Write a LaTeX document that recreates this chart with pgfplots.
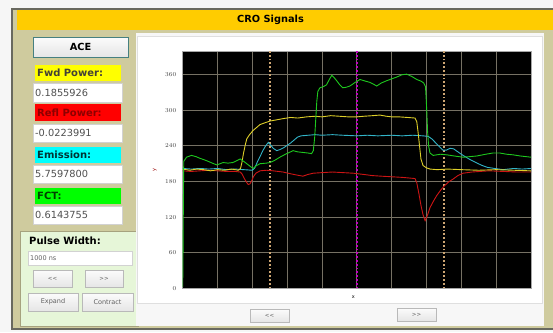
\documentclass[border=0pt]{standalone}
\usepackage{fontspec}
\setmainfont{DejaVu Sans}
\usepackage{pgfplots}
\pgfplotsset{compat=1.18}
\definecolor{olive1}{RGB}{207,203,158}
\definecolor{framec}{RGB}{105,105,95}
\definecolor{titley}{RGB}{255,204,0}
\definecolor{pgreen}{RGB}{230,246,216}
\definecolor{gridc}{RGB}{118,113,100}
\definecolor{cury}{RGB}{205,165,115}
\definecolor{curm}{RGB}{195,0,195}
\definecolor{trY}{RGB}{222,207,40}
\definecolor{trC}{RGB}{50,180,200}
\definecolor{trG}{RGB}{30,200,30}
\definecolor{trR}{RGB}{205,20,20}
\definecolor{valc}{RGB}{80,80,80}
\definecolor{bgY}{RGB}{255,255,0}
\definecolor{bgR}{RGB}{255,0,0}
\definecolor{bgC}{RGB}{0,255,255}
\definecolor{bgG}{RGB}{0,255,0}
\begin{document}
\begin{tikzpicture}
\useasboundingbox (0pt,0pt) rectangle (553pt,-332pt);
\begin{scope}[x=1pt,y=-1pt,
  btn/.style={top color=white!97!gray, bottom color=gray!20, draw=gray!55, line width=0.6pt},
  vbox/.style={fill=white, draw=gray!35, line width=0.5pt},
  lbl/.style={font=\fontsize{10}{11}\selectfont\bfseries, anchor=west, inner sep=0pt},
  val/.style={font=\fontsize{9.8}{11}\selectfont, anchor=west, inner sep=0pt, text=valc},
  small/.style={font=\fontsize{6.5}{7}\selectfont, text=gray!75!black, inner sep=0pt}]
\fill[white!93!gray] (0,0) rectangle (553,332);
\filldraw[fill=olive1, draw=framec, line width=1.6pt] (12,9) rectangle (565,329);
\fill[titley] (17,10) rectangle (553,30);
\node[font=\fontsize{9.8}{10}\selectfont\bfseries, inner sep=0pt] at (270.5,20) {CRO Signals};
% left panel
\filldraw[btn, draw=teal!45!gray] (33,37) rectangle (128,57);
\node[font=\fontsize{9.8}{10}\selectfont\bfseries, inner sep=0pt] at (80.5,47) {ACE};
\fill[bgY] (35,65) rectangle (121,81);
\node[lbl, text=black!85!yellow] at (37,73) {Fwd Power:};
\filldraw[vbox] (33,83) rectangle (122,102);
\node[val] at (35,92.5) {0.1855926};
\fill[bgR] (35,104) rectangle (121,121);
\node[lbl, text=red!55!black] at (37,112.5) {Refl Power:};
\filldraw[vbox] (33,124) rectangle (122,142);
\node[val] at (35,133) {-0.0223991};
\fill[bgC] (35,147) rectangle (121,163);
\node[lbl, text=teal!40!black] at (37,155) {Emission:};
\filldraw[vbox] (33,165) rectangle (122,183);
\node[val] at (35,174) {5.7597800};
\fill[bgG] (35,188) rectangle (121,204);
\node[lbl, text=green!25!black] at (37,196) {FCT:};
\filldraw[vbox] (33,206) rectangle (122,224);
\node[val] at (35,215) {0.6143755};
% pulse width panel
\filldraw[fill=pgreen, draw=olive1!80!black, line width=0.8pt] (20,231) rectangle (138,326);
\node[lbl] at (29,240.5) {Pulse Width:};
\filldraw[vbox] (28,251) rectangle (132,265);
\node[small, anchor=west, font=\fontsize{6.5}{7}\selectfont] at (30,258) {1000 ns};
\filldraw[btn] (33,270) rectangle (72,287);
\node[small, font=\fontsize{5.5}{6}\selectfont] at (52.5,278.5) {{<}{<}};
\filldraw[btn] (85,270) rectangle (123,287);
\node[small, font=\fontsize{5.5}{6}\selectfont] at (104,278.5) {{>}{>}};
\filldraw[btn] (28,293) rectangle (78,311);
\node[small] at (53,302) {Expand};
\filldraw[btn] (82,293) rectangle (133,311);
\node[small] at (107.5,302) {Contract};
% chart panel
\fill[white!94!gray] (136,33) rectangle (544,326);
\filldraw[fill=white, draw=gray!25] (137,36) rectangle (542,303);
\filldraw[btn] (250,309) rectangle (289,322);
\node[small, font=\fontsize{5.5}{6}\selectfont] at (269.5,315.5) {{<}{<}};
\filldraw[btn] (397,308) rectangle (436,321);
\node[small, font=\fontsize{5.5}{6}\selectfont] at (416.5,314.5) {{>}{>}};
\end{scope}
\begin{axis}[
  at={(182.7pt,-288.3pt)}, anchor=south west,
  width=348.3pt, height=237.3pt, scale only axis,
  xmin=0, xmax=1000, ymin=0, ymax=400,
  axis background/.style={fill=black},
  xtick={0,100,...,1000}, xticklabels={},
  ytick={0,60,...,360},
  grid=major, major grid style={draw=gridc, line width=1pt},
  tick style={draw=none},
  axis line style={draw=gray!70, line width=0.6pt},
  yticklabel style={font=\fontsize{6}{6}\selectfont, text=black!75, xshift=-3pt},
  xlabel={x}, ylabel={y},
  xlabel style={font=\fontsize{5}{5}\selectfont, at={(axis description cs:0.49,0)}, anchor=north, yshift=-4pt},
  ylabel style={font=\fontsize{5}{5}\selectfont, text=red!60!black, at={(axis description cs:-0.08,0.5)}, anchor=center},
  every axis plot/.append style={line width=0.9pt, mark=none},
]
\addplot[cury, line width=1.8pt, dotted] coordinates {(250,0) (250,400)};
\addplot[cury, line width=1.8pt, dotted] coordinates {(750,0) (750,400)};
\addplot[curm, line width=1.8pt, dotted] coordinates {(500,0) (500,400)};
% Refl (red)
\addplot[trR] coordinates {(0,198)(25,197)(50,198)(75,199)(100,198)(125,197)(150,197)(165,196)(170,193)(176,186)(183,179)(188,175)(193,176)(198,181)(203,188)(210,194)(222,198)(240,199)(260,198)(288,196)(310,193)(327,191)(345,189)(360,192)(375,194)(400,195)(430,196)(460,195)(490,194)(518,192)(545,190)(570,189)(600,188)(630,187)(667,185)(672,178)(678,160)(684,140)(690,124)(696,114)(702,122)(710,136)(720,147)(729,156)(740,165)(750,172)(765,180)(776,184)(790,190)(805,194)(830,196)(854,197)(880,198)(920,197)(960,196)(1000,196)};
% Emission (cyan)
\addplot[trC] coordinates {(0,202)(25,201)(50,202)(75,201)(100,202)(125,200)(150,201)(175,200)(200,199)(207,203)(215,214)(222,222)(230,232)(238,240)(246,246)(253,241)(260,236)(270,232)(280,234)(290,237)(300,241)(310,245)(320,250)(330,255)(340,257)(360,258)(380,259)(400,258)(430,259)(460,258)(500,257)(530,258)(560,257)(600,258)(630,257)(660,258)(690,257)(705,256)(715,252)(725,246)(735,240)(747,233)(757,233)(768,236)(778,235)(790,230)(805,224)(825,217)(845,211)(860,207)(874,204)(895,202)(920,200)(950,202)(975,201)(1000,202)};
% Fwd (yellow)
\addplot[trY] coordinates {(0,201)(20,199)(40,201)(60,200)(80,198)(100,200)(120,199)(140,201)(160,199)(166,202)(170,212)(174,226)(179,240)(184,252)(192,259)(202,266)(212,271)(222,276)(236,279)(251,282)(270,284)(288,286)(310,288)(330,287)(356,289)(380,290)(400,289)(425,291)(450,290)(475,289)(500,289)(520,290)(545,291)(566,292)(585,290)(600,289)(620,289)(645,288)(667,287)(672,281)(676,262)(680,240)(684,218)(690,207)(700,203)(710,201)(730,200)(760,201)(800,200)(850,199)(900,200)(950,199)(1000,198)};
% FCT (green)
\addplot[trG] coordinates {(0,2)(1,60)(2,150)(3,214)(11,221)(25,224)(38,222)(50,219)(60,217)(69,215)(85,211)(98,208)(107,210)(116,212)(130,211)(144,212)(155,215)(165,218)(175,214)(184,210)(195,205)(202,202)(212,207)(222,210)(240,211)(251,212)(265,216)(279,221)(295,226)(317,232)(330,230)(345,229)(360,228)(370,227)(375,232)(379,255)(382,285)(385,315)(388,332)(394,338)(404,340)(413,343)(420,351)(428,359)(435,355)(442,350)(451,343)(460,338)(470,339)(480,341)(495,347)(509,352)(520,350)(538,347)(548,344)(557,341)(570,346)(586,350)(600,353)(614,356)(630,360)(643,361)(658,357)(672,352)(685,349)(692,346)(697,340)(699,320)(701,295)(703,265)(706,240)(710,228)(719,224)(740,226)(758,225)(780,223)(805,221)(825,222)(844,223)(870,226)(890,228)(911,228)(930,226)(948,225)(970,223)(1000,221)};
\end{axis}
\end{tikzpicture}
\end{document}
